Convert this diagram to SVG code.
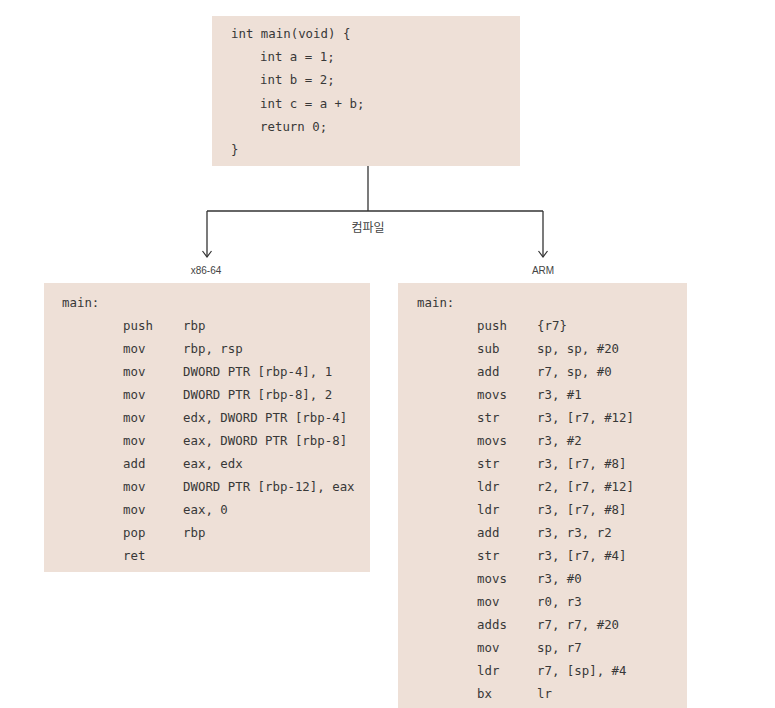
<svg xmlns="http://www.w3.org/2000/svg" width="775" height="708" viewBox="0 0 775 708">
<style>
.box{fill:#eee0d7}
.code{font-family:"DejaVu Sans Mono","Liberation Mono",monospace;font-size:12.4px;fill:#383838}
.lbl{font-family:"Liberation Sans","Noto Sans CJK KR",sans-serif;font-size:10px;fill:#444}
.kr{font-family:"Noto Sans CJK KR",sans-serif;font-size:12px;fill:#444}
.ln{stroke:#333;stroke-width:1.3;fill:none}
</style>
<defs>
<marker id="ah" viewBox="0 0 12 12" refX="11" refY="6" markerWidth="12" markerHeight="12" markerUnits="userSpaceOnUse" orient="auto">
<path d="M5,1.5 L11,6 L5,10.5" fill="none" stroke="#333" stroke-width="1.2"/>
</marker>
</defs>
<rect width="775" height="708" fill="#fff"/>
<g id="source">
<rect class="box" x="212" y="16" width="308" height="150"/>
<text class="code" x="231" y="38">int main(void) {</text>
<text class="code" x="260" y="61">int a = 1;</text>
<text class="code" x="260" y="84">int b = 2;</text>
<text class="code" x="260" y="108">int c = a + b;</text>
<text class="code" x="260" y="131">return 0;</text>
<text class="code" x="231" y="154">}</text>
</g>
<g id="connectors">
<path class="ln" d="M368,166 V211"/>
<path class="ln" d="M207,211 H543"/>
<path class="ln" d="M207,211 V257" marker-end="url(#ah)"/>
<path class="ln" d="M543,211 V257" marker-end="url(#ah)"/>
<text class="kr" x="368" y="232" text-anchor="middle">컴파일</text>
<text class="lbl" x="206" y="274" text-anchor="middle">x86-64</text>
<text class="lbl" x="543" y="274" text-anchor="middle">ARM</text>
</g>
<g id="x86">
<rect class="box" x="44" y="283" width="326" height="289"/>
<text class="code" x="62" y="307">main:</text>
<g class="code">
<text x="123" y="330">push</text><text x="183" y="330">rbp</text>
<text x="123" y="353">mov</text><text x="183" y="353">rbp, rsp</text>
<text x="123" y="376">mov</text><text x="183" y="376">DWORD PTR [rbp-4], 1</text>
<text x="123" y="399">mov</text><text x="183" y="399">DWORD PTR [rbp-8], 2</text>
<text x="123" y="422">mov</text><text x="183" y="422">edx, DWORD PTR [rbp-4]</text>
<text x="123" y="445">mov</text><text x="183" y="445">eax, DWORD PTR [rbp-8]</text>
<text x="123" y="468">add</text><text x="183" y="468">eax, edx</text>
<text x="123" y="491">mov</text><text x="183" y="491">DWORD PTR [rbp-12], eax</text>
<text x="123" y="514">mov</text><text x="183" y="514">eax, 0</text>
<text x="123" y="537">pop</text><text x="183" y="537">rbp</text>
<text x="123" y="560">ret</text>
</g>
</g>
<g id="arm">
<rect class="box" x="398" y="283" width="289" height="425"/>
<text class="code" x="417" y="307">main:</text>
<g class="code">
<text x="477" y="330">push</text><text x="537" y="330">{r7}</text>
<text x="477" y="353">sub</text><text x="537" y="353">sp, sp, #20</text>
<text x="477" y="376">add</text><text x="537" y="376">r7, sp, #0</text>
<text x="477" y="399">movs</text><text x="537" y="399">r3, #1</text>
<text x="477" y="422">str</text><text x="537" y="422">r3, [r7, #12]</text>
<text x="477" y="445">movs</text><text x="537" y="445">r3, #2</text>
<text x="477" y="468">str</text><text x="537" y="468">r3, [r7, #8]</text>
<text x="477" y="491">ldr</text><text x="537" y="491">r2, [r7, #12]</text>
<text x="477" y="514">ldr</text><text x="537" y="514">r3, [r7, #8]</text>
<text x="477" y="537">add</text><text x="537" y="537">r3, r3, r2</text>
<text x="477" y="560">str</text><text x="537" y="560">r3, [r7, #4]</text>
<text x="477" y="583">movs</text><text x="537" y="583">r3, #0</text>
<text x="477" y="606">mov</text><text x="537" y="606">r0, r3</text>
<text x="477" y="629">adds</text><text x="537" y="629">r7, r7, #20</text>
<text x="477" y="652">mov</text><text x="537" y="652">sp, r7</text>
<text x="477" y="675">ldr</text><text x="537" y="675">r7, [sp], #4</text>
<text x="477" y="698">bx</text><text x="537" y="698">lr</text>
</g>
</g>
</svg>
